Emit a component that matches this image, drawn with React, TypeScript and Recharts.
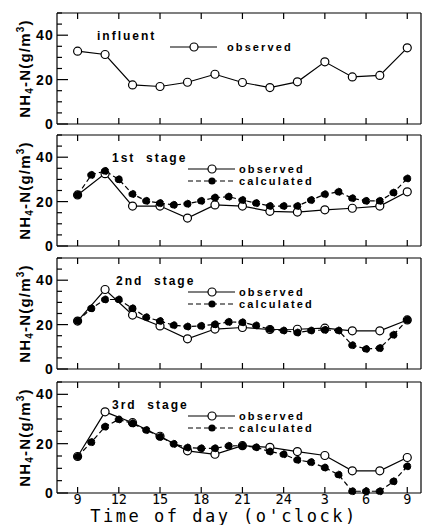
import React from 'react';
import { LineChart, Line, XAxis, YAxis, Legend } from 'recharts';

// sampling hours (9 = 9 a.m. day 1, 33 = 9 a.m. next day)
const obsHours = [9, 11, 13, 15, 17, 19, 21, 23, 25, 27, 29, 31, 33];
const calcHours = [9, 10, 11, 12, 13, 14, 15, 16, 17, 18, 19, 20, 21, 22, 23, 24, 25, 26, 27, 28, 29, 30, 31, 32, 33];
const hourTicks = [9, 12, 15, 18, 21, 24, 27, 30, 33];
const yTicks50 = [0, 5, 10, 15, 20, 25, 30, 35, 40, 45, 50];
const yTicks45 = [0, 5, 10, 15, 20, 25, 30, 35, 40, 45];
const yLabelled = [0, 20, 40];

const influentObserved = [32.8, 31.3, 17.6, 16.9, 18.8, 22.4, 18.7, 16.4, 19.0, 28.0, 21.2, 21.9, 34.3];

const stage1Observed = [23.0, 32.6, 18.0, 18.0, 12.6, 18.5, 18.0, 15.6, 15.3, 16.3, 17.0, 18.0, 24.4];
const stage1Calculated = [23.0, 32.0, 33.8, 30.0, 23.4, 20.3, 19.3, 18.5, 19.0, 20.3, 21.8, 22.2, 20.7, 19.3, 18.0, 18.0, 18.0, 20.7, 23.3, 24.4, 21.5, 20.3, 20.3, 24.0, 30.4];

const stage2Observed = [21.6, 35.8, 24.3, 19.4, 13.6, 18.0, 18.7, 17.8, 17.9, 18.4, 17.2, 17.2, 22.1];
const stage2Calculated = [21.6, 27.3, 31.3, 31.3, 27.3, 23.3, 21.6, 19.7, 19.1, 19.4, 20.1, 21.2, 21.0, 19.6, 17.9, 17.3, 16.4, 17.3, 17.6, 17.3, 10.7, 9.0, 9.4, 15.4, 22.1];

const stage3Observed = [14.8, 32.9, 28.5, 23.0, 17.1, 15.7, 19.2, 18.5, 16.8, 15.2, 9.0, 9.0, 14.4];
const stage3Calculated = [14.8, 20.6, 26.9, 29.8, 28.2, 25.5, 22.8, 19.9, 18.4, 18.1, 18.1, 19.1, 19.2, 18.5, 16.8, 15.7, 13.4, 12.5, 10.3, 7.4, 0.7, 0.7, 0.7, 4.7, 10.8];

const buildRows = (obs: number[], calc?: number[]) =>
  calcHours.map((h, i) => {
    const k = obsHours.indexOf(h);
    return { h, obs: k >= 0 ? obs[k] : null, calc: calc ? calc[i] : null };
  });

const hourLabel = (h: number) => String(h > 24 ? h - 24 : h);

const SANS = '"Liberation Sans", Arial, sans-serif';
const MONO = '"DejaVu Sans Mono", monospace';
const STROKE = 1.2;

const LeftTick = ({ x, y, payload }: any) => {
  const major = yLabelled.includes(payload.value);
  return (
    <g>
      <line x1={x} x2={x + (major ? 11 : 5)} y1={y} y2={y} stroke="#000" strokeWidth={STROKE} />
      {major && (
        <text x={x - 3} y={y} dy={5} textAnchor="end" fontFamily={SANS} fontWeight="bold" fontSize={14} letterSpacing={1.2} fill="#000">
          {payload.value}
        </text>
      )}
    </g>
  );
};

const RightTick = ({ x, y, payload }: any) => {
  const major = yLabelled.includes(payload.value);
  return <line x1={x} x2={x - (major ? 10 : 5)} y1={y} y2={y} stroke="#000" strokeWidth={STROKE} />;
};

const BottomTick = ({ x, y, payload, showLabel }: any) => (
  <g>
    <line x1={x} x2={x} y1={y} y2={y - 6} stroke="#000" strokeWidth={STROKE} />
    {showLabel && (
      <text x={x} y={y + 11} textAnchor="middle" fontFamily={MONO} fontSize={13.5} fill="#000">
        {hourLabel(payload.value)}
      </text>
    )}
  </g>
);

const TopTick = ({ x, y }: any) => <line x1={x} x2={x} y1={y} y2={y + 6} stroke="#000" strokeWidth={STROKE} />;

const YTitle = ({ viewBox }: any) => {
  const cx = viewBox.x + 13;
  const cy = viewBox.y + viewBox.height / 2;
  return (
    <text x={cx} y={cy} transform={`rotate(-90 ${cx} ${cy})`} textAnchor="middle" fontFamily={SANS} fontWeight="bold" fontSize={15} letterSpacing={1.2} fill="#000">
      NH
      <tspan fontSize={10} dy={3}>4</tspan>
      <tspan dy={-3}>-N(g/m</tspan>
      <tspan fontSize={10} dy={-6}>3</tspan>
      <tspan dy={6}>)</tspan>
    </text>
  );
};

const XTitle = ({ viewBox }: any) => (
  <text x={224} y={viewBox.y + 29} textAnchor="middle" fontFamily={MONO} fontSize={17} letterSpacing={2.5} fill="#000">
    Time of day (o'clock)
  </text>
);

type KeyProps = { title: string; titleX: number; keyX: number; withCalc: boolean };

const PanelKey = ({ title, titleX, keyX, withCalc }: KeyProps) => (
  <svg width={428} height={70} style={{ overflow: 'visible', display: 'block' }}>
    <text x={titleX} y={37} fontFamily={SANS} fontWeight="bold" fontSize={12} letterSpacing={2} fill="#000" style={{ whiteSpace: 'pre' }}>
      {title}
    </text>
    <line x1={keyX} x2={keyX + 47} y1={44} y2={44} stroke="#000" strokeWidth={STROKE} />
    <circle cx={keyX + 24} cy={44} r={4} fill="#fff" stroke="#000" strokeWidth={STROKE} />
    <text x={keyX + (withCalc ? 51 : 57)} y={48} fontFamily={SANS} fontWeight="bold" fontSize={11} letterSpacing={2.1} fill="#000">
      observed
    </text>
    {withCalc && (
      <g>
        <line x1={keyX} x2={keyX + 47} y1={56} y2={56} stroke="#000" strokeWidth={STROKE} strokeDasharray="5 3" />
        <circle cx={keyX + 24} cy={56} r={3.6} fill="#000" />
        <text x={keyX + 51} y={60} fontFamily={SANS} fontWeight="bold" fontSize={11} letterSpacing={2.1} fill="#000">
          calculated
        </text>
      </g>
    )}
  </svg>
);

type PanelProps = {
  rows: any[];
  top: number;
  yMax: number;
  yTicks: number[];
  title: string;
  titleX: number;
  keyX: number;
  withCalc: boolean;
  last?: boolean;
};

const Panel = ({ rows, top, yMax, yTicks, title, titleX, keyX, withCalc, last }: PanelProps) => {
  const bottomH = last ? 32 : 2;
  const bottomM = last ? 0 : 8;
  return (
    <div style={{ position: 'absolute', left: 0, top }}>
      <LineChart width={428} height={10 + 111 + bottomH + bottomM} data={rows} margin={{ top: 8, right: 2, left: 17, bottom: bottomM }}>
        <XAxis
          dataKey="h"
          type="number"
          domain={[7.5, 34]}
          ticks={hourTicks}
          interval={0}
          height={bottomH}
          tickSize={0}
          tickMargin={0}
          tickLine={false}
          axisLine={{ stroke: '#000', strokeWidth: STROKE }}
          tick={<BottomTick showLabel={!!last} />}
          label={last ? { content: (p: any) => <XTitle viewBox={p.viewBox} /> } : undefined}
        />
        <XAxis
          xAxisId="top"
          orientation="top"
          dataKey="h"
          type="number"
          domain={[7.5, 34]}
          ticks={hourTicks}
          interval={0}
          height={2}
          tickSize={0}
          tickMargin={0}
          tickLine={false}
          axisLine={{ stroke: '#000', strokeWidth: STROKE }}
          tick={<TopTick />}
        />
        <YAxis
          type="number"
          domain={[0, yMax]}
          ticks={yTicks}
          interval={0}
          width={40}
          tickSize={0}
          tickMargin={0}
          tickLine={false}
          axisLine={{ stroke: '#000', strokeWidth: STROKE }}
          tick={<LeftTick />}
          label={{ content: (p: any) => <YTitle viewBox={p.viewBox} /> }}
        />
        <YAxis
          yAxisId="r"
          orientation="right"
          type="number"
          domain={[0, yMax]}
          ticks={yTicks}
          interval={0}
          width={5}
          tickSize={0}
          tickMargin={0}
          tickLine={false}
          axisLine={{ stroke: '#000', strokeWidth: STROKE }}
          tick={<RightTick />}
        />
        <Legend
          verticalAlign="middle"
          align="center"
          layout="horizontal"
          wrapperStyle={{ left: 0, top: 0, width: 428 }}
          content={() => <PanelKey title={title} titleX={titleX} keyX={keyX} withCalc={withCalc} />}
        />
        <Line
          dataKey="obs"
          type="linear"
          connectNulls
          stroke="#000"
          strokeWidth={STROKE}
          dot={{ r: 4, fill: '#fff', stroke: '#000', strokeWidth: STROKE }}
          activeDot={false}
          isAnimationActive={false}
        />
        {withCalc && (
          <Line
            dataKey="calc"
            type="linear"
            stroke="#000"
            strokeWidth={STROKE}
            strokeDasharray="5 3"
            dot={{ r: 3.6, fill: '#000', stroke: '#000', strokeWidth: 1 }}
            activeDot={false}
            isAnimationActive={false}
          />
        )}
      </LineChart>
    </div>
  );
};

export default function App() {
  return (
    <div style={{ position: 'absolute', left: 0, top: 0, width: 428, height: 525, background: '#fff' }}>
      <Panel rows={buildRows(influentObserved)} top={3} yMax={50} yTicks={yTicks50} title="influent" titleX={97} keyX={170} withCalc={false} />
      <Panel rows={buildRows(stage1Observed, stage1Calculated)} top={125} yMax={50} yTicks={yTicks50} title="1st  stage" titleX={112} keyX={188} withCalc />
      <Panel rows={buildRows(stage2Observed, stage2Calculated)} top={248} yMax={50} yTicks={yTicks50} title="2nd  stage" titleX={116} keyX={188} withCalc />
      <Panel rows={buildRows(stage3Observed, stage3Calculated)} top={372} yMax={45} yTicks={yTicks45} title="3rd  stage" titleX={112} keyX={188} withCalc last />
    </div>
  );
}
